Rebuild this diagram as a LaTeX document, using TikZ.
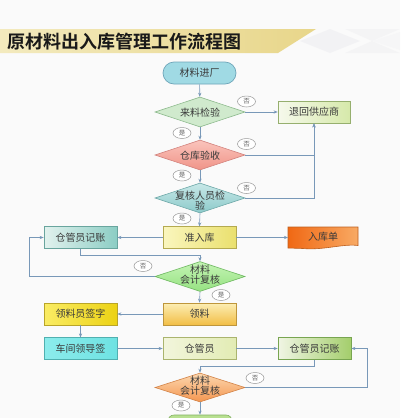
\documentclass[tikz,border=0pt]{standalone}
\usepackage{fontspec}
\newfontfamily\cjk{Noto Sans CJK SC}
\newfontfamily\cjkbold{Noto Sans CJK SC Bold}
\usetikzlibrary{shapes.geometric,arrows.meta,calc}
\definecolor{pagebg}{HTML}{FAFAFA}
\definecolor{linkc}{HTML}{7898B8}
\definecolor{txt}{HTML}{3A3A3A}
\newcommand\dtxt[2][-1.5pt]{\smash{\makebox[0pt]{\raisebox{#1}{\begin{tabular}{@{}c@{}}#2\end{tabular}}}}}
\begin{document}
\begin{tikzpicture}[x=1pt,y=-1pt,
  font=\cjk\fontsize{10}{10}\selectfont,
  box/.style={rectangle, minimum width=73pt, minimum height=21.5pt, inner sep=0pt, line width=0.7pt, text=txt},
  dia/.style={diamond, minimum width=90pt, minimum height=30pt, inner sep=0pt, line width=0.6pt, text=txt},
  tag/.style={ellipse, draw=gray!80, fill=white, line width=0.5pt, minimum width=18pt, minimum height=11pt, inner sep=0pt, font=\cjk\fontsize{6.5}{7}\selectfont, text=txt!80},
  link/.style={draw=linkc, line width=0.6pt},
  arr/.style={link, -{Stealth[length=4pt,width=3.2pt]}}
]
\useasboundingbox (0,0) rectangle (400,418);
\clip (0,0) rectangle (400,418);
\fill[pagebg] (0,0) rectangle (400,418);

% title band and decoration
\fill[fill=blue!8!gray!12, opacity=0.6] (300,41) -- (330,29) -- (360,41) -- (330,53) -- cycle;
\fill[fill=blue!8!gray!10, opacity=0.6] (345,29) -- (400,29) -- (372,41) -- cycle;
\fill[fill=blue!8!gray!10, opacity=0.6] (345,53) -- (400,53) -- (372,41) -- cycle;
\fill[fill=blue!8!gray!8, opacity=0.5] (372,41) -- (400,32) -- (400,50) -- cycle;
\shade[left color={rgb,255:red,243;green,234;blue,190}, right color={rgb,255:red,232;green,214;blue,138}]
  (0,29) -- (316,29) -- (278,53) -- (0,53) -- cycle;
\node[anchor=west, inner sep=0pt, font=\cjkbold\fontsize{18}{18}\selectfont, text=black!90] (title) at (7,41.5) {原材料出入库管理工作流程图};

% nodes
\node[box, minimum height=22pt, rounded corners=11pt, draw={rgb,255:red,110;green,165;blue,185}, fill={rgb,255:red,160;green,218;blue,228}] (start) at (199.5,73) {材料进厂};
\node[dia, draw={rgb,255:red,140;green,185;blue,140}, fill={rgb,255:red,208;green,234;blue,205}] (d1) at (200,112) {\dtxt[-4pt]{来料检验}};
\node[box, minimum width=72pt, minimum height=22pt, draw={rgb,255:red,150;green,175;blue,110}, left color={rgb,255:red,246;green,249;blue,236}, right color={rgb,255:red,214;green,233;blue,170}] (ret) at (314,112) {退回供应商};
\node[dia, draw={rgb,255:red,210;green,130;blue,125}, top color={rgb,255:red,250;green,196;blue,188}, bottom color={rgb,255:red,240;green,148;blue,136}] (d2) at (200,155) {\dtxt[-4pt]{仓库验收}};
\node[dia, draw={rgb,255:red,110;green,168;blue,168}, top color={rgb,255:red,200;green,232;blue,232}, bottom color={rgb,255:red,140;green,202;blue,202}] (d3) at (200,198) {\dtxt[-6pt]{复核人员检\\[-1.5pt]验}};
\node[box, draw={rgb,255:red,180;green,170;blue,80}, left color={rgb,255:red,250;green,246;blue,190}, right color={rgb,255:red,234;green,224;blue,110}] (zr) at (199.5,237.5) {准入库};
\node[box, draw={rgb,255:red,105;green,165;blue,158}, left color={rgb,255:red,226;green,242;blue,238}, right color={rgb,255:red,140;green,205;blue,196}] (jz1) at (80.5,237.5) {仓管员记账};
\coordinate (rkdc) at (323,237.5);
\draw[line width=0.6pt, draw={rgb,255:red,190;green,95;blue,30}, left color={rgb,255:red,240;green,104;blue,20}, right color={rgb,255:red,248;green,170;blue,100}]
  ($(rkdc)+(-35,-10.5)$) -- ($(rkdc)+(35,-10.5)$) -- ($(rkdc)+(35,8)$)
  .. controls ($(rkdc)+(20,6)$) and ($(rkdc)+(0,13)$) .. ($(rkdc)+(-20,11)$) -- ($(rkdc)+(-35,10.5)$) -- cycle;
\node[inner sep=0pt, text=txt] (rkd) at ($(rkdc)+(0,-0.5)$) {入库单};
\node[dia, draw={rgb,255:red,110;green,184;blue,96}, top color={rgb,255:red,196;green,244;blue,180}, bottom color={rgb,255:red,150;green,226;blue,130}] (d4) at (200,276.5) {\dtxt{材料\\[-1.5pt]会计复核}};
\node[box, minimum height=22pt, draw={rgb,255:red,190;green,150;blue,60}, top color={rgb,255:red,252;green,238;blue,180}, bottom color={rgb,255:red,242;green,190;blue,70}] (ll) at (199.5,314) {领料};
\node[box, minimum height=22pt, draw={rgb,255:red,185;green,165;blue,40}, left color={rgb,255:red,250;green,236;blue,100}, right color={rgb,255:red,236;green,210;blue,20}] (qz) at (80.5,314) {领料员签字};
\node[box, draw={rgb,255:red,80;green,176;blue,176}, left color={rgb,255:red,140;green,236;blue,236}, right color={rgb,255:red,110;green,226;blue,226}] (cj) at (80.5,348.5) {车间领导签};
\node[box, draw={rgb,255:red,170;green,180;blue,110}, left color={rgb,255:red,242;green,245;blue,220}, right color={rgb,255:red,226;green,236;blue,180}] (cgy) at (199.5,348.5) {仓管员};
\node[box, draw={rgb,255:red,120;green,165;blue,80}, left color={rgb,255:red,240;green,245;blue,228}, right color={rgb,255:red,164;green,206;blue,108}] (jz2) at (314.5,348.5) {仓管员记账};
\node[dia, minimum height=29pt, draw={rgb,255:red,210;green,130;blue,70}, top color={rgb,255:red,252;green,216;blue,176}, bottom color={rgb,255:red,244;green,150;blue,80}] (d5) at (200,387.5) {\dtxt{材料\\[-1.5pt]会计复核}};
\node[rectangle, rounded corners=6pt, minimum width=64pt, minimum height=20pt, line width=0.6pt, draw={rgb,255:red,130;green,176;blue,96}, fill={rgb,255:red,184;green,224;blue,144}] (endbox) at (200,425) {};

% connectors
\draw[arr] (start) -- (d1);
\draw[arr] (d1.east) -- (ret.west);
\draw[arr] (d1.south) -- (d2.north);
\draw[arr] (d2.east) -| (ret.south);
\draw[arr] (d3.east) -| (ret.south);
\draw[arr] (d2.south) -- (d3.north);
\draw[arr] (d3.south) -- (zr.north);
\draw[arr] (zr.west) -- (jz1.east);
\draw[arr] (zr.east) -- ($(rkdc)+(-35,0)$);
\draw[arr] (jz1.south) -- ++(0,6.5) -| (d4.north);
\draw[arr] (d4.west) -- (29,276.5) |- (jz1.west);
\draw[arr] (d4.south) -- (ll.north);
\draw[arr] (ll.west) -- (qz.east);
\draw[arr] (qz.south) -- (cj.north);
\draw[arr] (cj.east) -- (cgy.west);
\draw[arr] (cgy.east) -- (jz2.west);
\draw[arr] (jz2.south) -- ++(0,7) -| (d5.north);
\draw[arr] (d5.east) -- (367,387.5) |- (jz2.east);
\draw[arr] (d5.south) -- (endbox.north);

% yes/no tags
\node[tag] (n1) at (246.5,101.5) {否};
\node[tag] (y1) at (182,133) {是};
\node[tag] (n2) at (246.5,144) {否};
\node[tag] (y2) at (182,175.5) {是};
\node[tag] (n3) at (246.5,188) {否};
\node[tag] (y3) at (182,218.5) {是};
\node[tag] (n4) at (143,266) {否};
\node[tag] (y4) at (221,295) {是};
\node[tag] (n5) at (255,378) {否};
\node[tag] (y5) at (181,405.5) {是};
\end{tikzpicture}
\end{document}
